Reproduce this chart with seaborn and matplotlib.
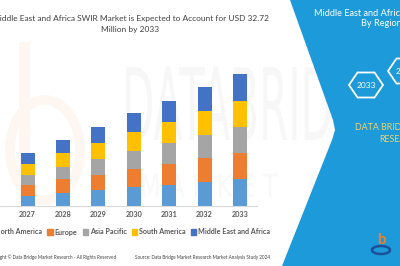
import pandas as pd
import seaborn as sns
import matplotlib.pyplot as plt
import matplotlib.transforms as mtransforms
from matplotlib.patches import Polygon, PathPatch, Arc, Rectangle
from matplotlib.textpath import TextPath
from matplotlib.font_manager import FontProperties

YEARS = ["2027", "2028", "2029", "2030", "2031", "2032", "2033"]
REGIONS = ["North America", "Europe", "Asia Pacific", "South America",
           "Middle East and Africa"]
north_america = [2.49, 3.06, 3.90, 4.55, 5.04, 5.79, 6.54]
europe = [2.66, 3.48, 3.73, 4.65, 5.29, 5.96, 6.63]
asia_pacific = [2.49, 3.16, 3.98, 4.47, 5.22, 5.79, 6.29]
south_america = [2.66, 3.31, 4.05, 4.72, 5.29, 5.96, 6.63]
mea = [2.73, 3.31, 3.80, 4.55, 5.22, 5.89, 6.63]
COLORS = ["#5B9BD5", "#ED7D31", "#A5A5A5", "#FFC000", "#4472C4"]

W, H = 400, 266
BLUE = "#1C9AD9"

plt.rcParams["font.family"] = ["Lato", "DejaVu Sans"]

df = pd.DataFrame({"year": YEARS, "North America": north_america,
                   "Europe": europe, "Asia Pacific": asia_pacific,
                   "South America": south_america,
                   "Middle East and Africa": mea})
cum = df[REGIONS].cumsum(axis=1)

fig = plt.figure(figsize=(4, 2.66), dpi=100)
fig.patch.set_facecolor("white")

# background layer in pixel coords (watermarks)
bg = fig.add_axes([0, 0, 1, 1], zorder=-1)
bg.set_xlim(0, W)
bg.set_ylim(H, 0)
bg.axis("off")
# very faint orange logo on the left
peach = "#FEF7F1"
bg.add_patch(Rectangle((19, 42), 11, 160, color=peach, lw=0))
bg.add_patch(Arc((45, 150), 70, 100, theta1=0, theta2=360, color=peach,
                 lw=7))
# big faint DATA BRIDGE watermark
tp = TextPath((0, 0), "DATABRIDGE", size=100,
              prop=FontProperties(family="DejaVu Sans"))
tr = mtransforms.Affine2D().scale(0.42, -1).translate(122, 140)
bg.add_patch(PathPatch(tr.transform_path(tp), facecolor="#F7F7F7", lw=0))
tp2 = TextPath((0, 0), "M A R K E T    R E S E A R C H", size=32,
               prop=FontProperties(family="DejaVu Sans"))
tr2 = mtransforms.Affine2D().scale(0.75, -1).translate(140, 197)
bg.add_patch(PathPatch(tr2.transform_path(tp2), facecolor="#F8F8F8", lw=0))

# the chart
ax = fig.add_axes([0, 1 - 205.7 / H, 257 / W, (205.7 - 50) / H], zorder=1)
ax.patch.set_alpha(0)
for i in reversed(range(len(REGIONS))):
    sns.barplot(ax=ax, x=df["year"], y=cum[REGIONS[i]], color=COLORS[i],
                width=0.4, saturation=1, linewidth=0, label=REGIONS[i])
ax.set_xlim(-0.78, 6.48)
ax.set_ylim(0, 38.7)
ax.set_xlabel("")
ax.set_ylabel("")
ax.set_yticks([])
for s in ["top", "right", "left"]:
    ax.spines[s].set_visible(False)
ax.spines["bottom"].set_color("#d9d9d9")
ax.spines["bottom"].set_linewidth(0.8)
ax.tick_params(axis="x", length=0, pad=4, labelsize=5.2, labelcolor="#595959")
for t in ax.get_xticklabels():
    t.set_fontweight("bold")
if ax.get_legend():
    ax.get_legend().remove()

# legend
handles = [plt.Rectangle((0, 0), 1, 1, color=c) for c in COLORS]
leg = fig.legend(handles, REGIONS, loc="center left",
                 bbox_to_anchor=(-12 / W, 1 - 232 / H), ncol=5, frameon=False,
                 handlelength=0.75, handleheight=0.75, handletextpad=0.3,
                 columnspacing=0.7, borderaxespad=0, borderpad=0,
                 prop={"weight": "bold", "size": 5.1})
for t in leg.get_texts():
    t.set_color("#595959")

# title
fig.text(130 / W, 1 - 18 / H,
         "Middle East and Africa SWIR Market is Expected to Account for USD 32.72",
         ha="center", va="center", fontsize=6.0, color="#404040")
fig.text(130 / W, 1 - 30 / H, "Million by 2033", ha="center", va="center",
         fontsize=6.0, color="#404040")

# footer
fig.text(-14 / W, 1 - 257 / H,
         "Copyright \u00a9 Data Bridge Market Research - All Rights Reserved",
         ha="left", va="center", fontsize=3.3, color="#404040")
fig.text(135 / W, 1 - 257 / H,
         "Source: Data Bridge Market Research Market Analysis Study 2024",
         ha="left", va="center", fontsize=3.3, color="#404040")

# right blue panel (foreground layer in pixel coords)
fg = fig.add_axes([0, 0, 1, 1], zorder=5)
fg.set_xlim(0, W)
fg.set_ylim(H, 0)
fg.axis("off")
fg.patch.set_alpha(0)
fg.add_patch(Polygon([(290, 0), (400, 0), (400, 266), (282, 266),
                      (332, 140), (335, 130), (333, 120)], closed=True,
                     facecolor=BLUE, edgecolor="none"))
fg.text(314, 13, "Middle East and Africa SWIR Market,", ha="left",
        va="center", fontsize=6.6, color="white")
fg.text(361, 24, "By Region", ha="left", va="center", fontsize=6.6,
        color="white")
for (cx, cy, lab) in [(366, 85, "2033"), (405, 71, "2024")]:
    hx, hy = 17, 12.5
    fg.add_patch(Polygon([(cx - hx, cy), (cx - hx / 2, cy - hy),
                          (cx + hx / 2, cy - hy), (cx + hx, cy),
                          (cx + hx / 2, cy + hy), (cx - hx / 2, cy + hy)],
                         closed=True, facecolor=BLUE, edgecolor="white",
                         lw=1.3))
    fg.text(cx, cy + 1, lab, ha="center", va="center", fontsize=6.0,
            color="white")
fg.text(355, 128, "DATA BRIDGE MARKET", ha="left", va="center",
        fontsize=6.4, color="#F2D16B")
fg.text(379, 139, "RESEARCH", ha="left", va="center", fontsize=6.4,
        color="#F2D16B")
# small logo at the bottom
fg.text(381, 240, "b", ha="center", va="center", fontsize=11,
        fontweight="bold", color="#F07F2A")
fg.add_patch(Arc((381, 250), 18, 8, theta1=0, theta2=360, color="#1F4E9A",
                 lw=1.8))

fig.savefig("out.png", dpi=100)
